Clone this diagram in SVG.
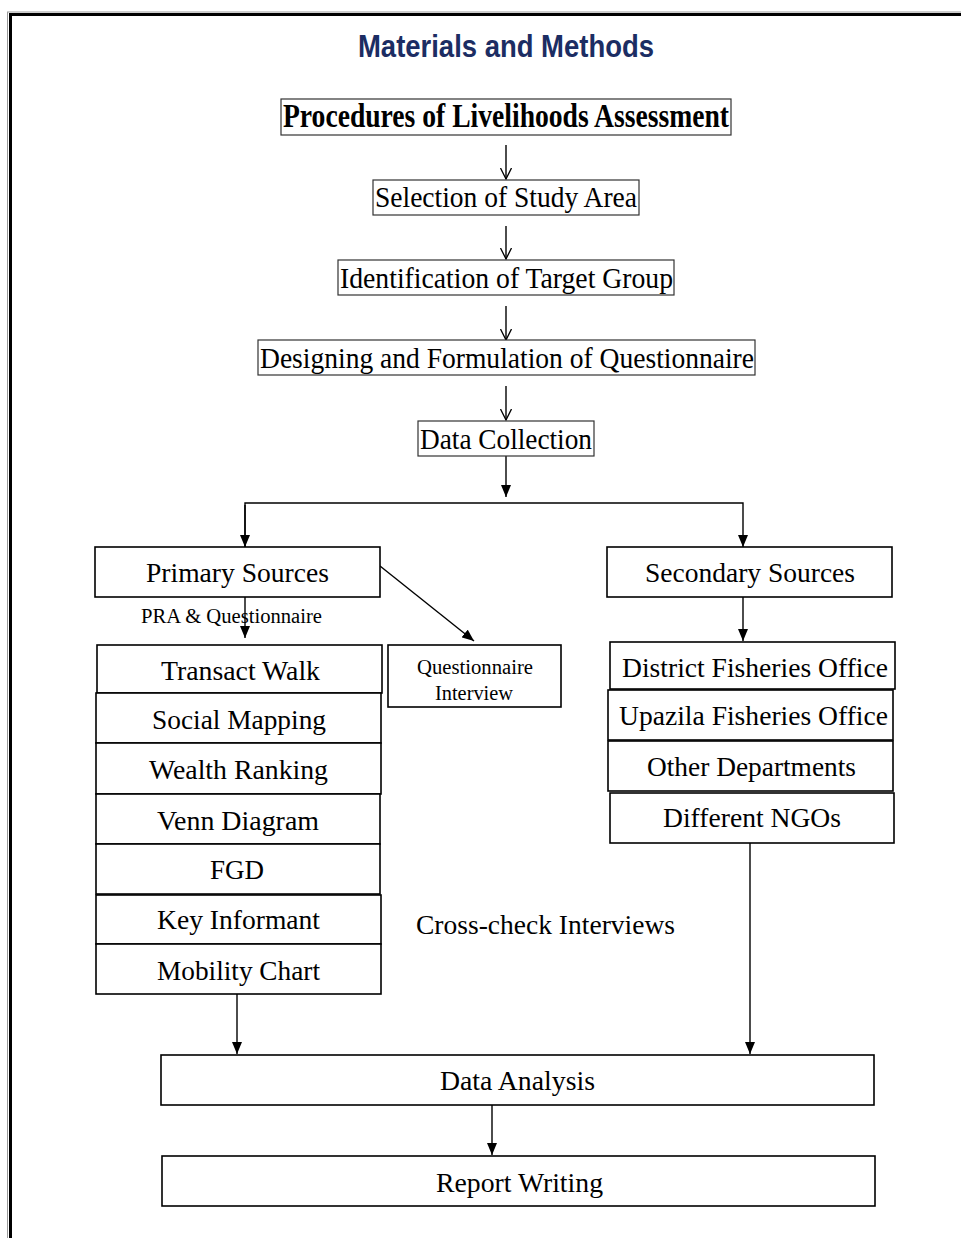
<svg xmlns="http://www.w3.org/2000/svg" width="961" height="1238" viewBox="0 0 961 1238">
<style>
.bx{fill:#fff;stroke:#000;stroke-width:1.6}
.bt{fill:#fff;stroke:#333;stroke-width:1.2}
.t{font-family:"Liberation Serif","Times New Roman",serif;fill:#000}
.c{stroke:#000;stroke-width:1.4;fill:none}
</style>
<defs>
<marker id="open" viewBox="0 0 12 12" refX="11" refY="6" markerWidth="12" markerHeight="12" orient="auto" markerUnits="userSpaceOnUse"><path d="M0,0.5 L11,6 L0,11.5" fill="none" stroke="#000" stroke-width="1.3"/></marker>
<marker id="fill" viewBox="0 0 12 10" refX="12" refY="5" markerWidth="12" markerHeight="10" orient="auto" markerUnits="userSpaceOnUse"><path d="M0,0 L12,5 L0,10 Z" fill="#000"/></marker>
</defs>
<rect width="961" height="1238" fill="#fff"/>
<g id="border">
<line x1="7.5" y1="12" x2="7.5" y2="1238" stroke="#999" stroke-width="1"/>
<line x1="10.5" y1="14.5" x2="10.5" y2="1238" stroke="#000" stroke-width="3"/>
<line x1="7" y1="12" x2="961" y2="12" stroke="#999" stroke-width="1"/>
<line x1="9" y1="14.5" x2="961" y2="14.5" stroke="#000" stroke-width="3"/>
</g>
<text id="title" x="358" y="57" textLength="296" lengthAdjust="spacingAndGlyphs" font-family="'Liberation Sans',Arial,sans-serif" font-weight="bold" font-size="32" fill="#1c2d63">Materials and Methods</text>
<g id="connectors">
<line class="c" x1="506" y1="145" x2="506" y2="179" marker-end="url(#open)"/>
<line class="c" x1="506" y1="226" x2="506" y2="259" marker-end="url(#open)"/>
<line class="c" x1="506" y1="306" x2="506" y2="340" marker-end="url(#open)"/>
<line class="c" x1="506" y1="386" x2="506" y2="420" marker-end="url(#open)"/>
<line class="c" x1="506" y1="456" x2="506" y2="497" marker-end="url(#fill)"/>
<polyline class="c" points="245,547 245,503 743,503 743,547" stroke-width="2" marker-end="url(#fill)"/>
<line class="c" x1="245" y1="505" x2="245" y2="547" marker-end="url(#fill)"/>
<line class="c" x1="245" y1="597" x2="245" y2="638" marker-end="url(#fill)"/>
<line class="c" x1="380" y1="566" x2="474" y2="641" marker-end="url(#fill)"/>
<line class="c" x1="743" y1="597" x2="743" y2="641" marker-end="url(#fill)"/>
<line class="c" x1="237" y1="994" x2="237" y2="1054" marker-end="url(#fill)"/>
<line class="c" x1="750" y1="843" x2="750" y2="1054" marker-end="url(#fill)"/>
<line class="c" x1="492" y1="1105" x2="492" y2="1155" marker-end="url(#fill)"/>
</g>
<g id="procedures"><rect class="bt" x="281" y="99" width="450" height="36"/><text class="t" x="283" y="127" font-size="33" font-weight="bold" textLength="446" lengthAdjust="spacingAndGlyphs">Procedures of Livelihoods Assessment</text></g>
<g id="selection"><rect class="bt" x="373" y="180" width="266" height="35"/><text class="t" x="375" y="207" font-size="30" textLength="262" lengthAdjust="spacingAndGlyphs">Selection of Study Area</text></g>
<g id="identification"><rect class="bt" x="338" y="260" width="336" height="35"/><text class="t" x="340" y="288" font-size="30" textLength="333" lengthAdjust="spacingAndGlyphs">Identification of Target Group</text></g>
<g id="designing"><rect class="bt" x="258" y="340" width="497" height="35"/><text class="t" x="260" y="368" font-size="30" textLength="494" lengthAdjust="spacingAndGlyphs">Designing and Formulation of Questionnaire</text></g>
<g id="datacollection"><rect class="bt" x="418" y="421" width="176" height="35"/><text class="t" x="420" y="449" font-size="30" textLength="172" lengthAdjust="spacingAndGlyphs">Data Collection</text></g>
<g id="primary"><rect class="bx" x="95" y="547" width="285" height="50"/><text class="t" x="146" y="582" font-size="28" textLength="183" lengthAdjust="spacingAndGlyphs">Primary Sources</text></g>
<text id="pra" class="t" x="141" y="623" font-size="20.5" textLength="181" lengthAdjust="spacingAndGlyphs">PRA &amp; Questionnaire</text>
<g id="secondary"><rect class="bx" x="607" y="547" width="285" height="50"/><text class="t" x="645" y="582" font-size="28" textLength="210" lengthAdjust="spacingAndGlyphs">Secondary Sources</text></g>
<g id="qinterview"><rect class="bx" x="388" y="645" width="173" height="62"/><text class="t" x="417" y="674" font-size="20.5" textLength="116" lengthAdjust="spacingAndGlyphs">Questionnaire</text><text class="t" x="435" y="700" font-size="20.5" textLength="78" lengthAdjust="spacingAndGlyphs">Interview</text></g>
<g id="transact"><rect class="bx" x="97" y="645" width="285" height="48"/><text class="t" x="161" y="680" font-size="28" textLength="159" lengthAdjust="spacingAndGlyphs">Transact Walk</text></g>
<g id="social"><rect class="bx" x="96" y="693" width="285" height="50"/><text class="t" x="152" y="729" font-size="28" textLength="174" lengthAdjust="spacingAndGlyphs">Social Mapping</text></g>
<g id="wealth"><rect class="bx" x="96" y="743" width="285" height="51"/><text class="t" x="149" y="779" font-size="28" textLength="179" lengthAdjust="spacingAndGlyphs">Wealth Ranking</text></g>
<g id="venn"><rect class="bx" x="96" y="794" width="284" height="50"/><text class="t" x="157" y="830" font-size="28" textLength="162" lengthAdjust="spacingAndGlyphs">Venn Diagram</text></g>
<g id="fgd"><rect class="bx" x="96" y="844" width="284" height="50"/><text class="t" x="210" y="879" font-size="28" textLength="54" lengthAdjust="spacingAndGlyphs">FGD</text></g>
<g id="key"><rect class="bx" x="96" y="895" width="285" height="49"/><text class="t" x="157" y="929" font-size="28" textLength="163" lengthAdjust="spacingAndGlyphs">Key Informant</text></g>
<g id="mobility"><rect class="bx" x="96" y="944" width="285" height="50"/><text class="t" x="157" y="980" font-size="28" textLength="163" lengthAdjust="spacingAndGlyphs">Mobility Chart</text></g>
<g id="district"><rect class="bx" x="610" y="642" width="285" height="47"/><text class="t" x="622" y="677" font-size="28" textLength="266" lengthAdjust="spacingAndGlyphs">District Fisheries Office</text></g>
<g id="upazila"><rect class="bx" x="608" y="690" width="285" height="50"/><text class="t" x="619" y="725" font-size="28" textLength="269" lengthAdjust="spacingAndGlyphs">Upazila Fisheries Office</text></g>
<g id="other"><rect class="bx" x="608" y="741" width="285" height="50"/><text class="t" x="647" y="776" font-size="28" textLength="209" lengthAdjust="spacingAndGlyphs">Other Departments</text></g>
<g id="ngos"><rect class="bx" x="610" y="793" width="284" height="50"/><text class="t" x="663" y="827" font-size="28" textLength="178" lengthAdjust="spacingAndGlyphs">Different NGOs</text></g>
<text id="crosscheck" class="t" x="416" y="934" font-size="28" textLength="259" lengthAdjust="spacingAndGlyphs">Cross-check Interviews</text>
<g id="analysis"><rect class="bx" x="161" y="1055" width="713" height="50"/><text class="t" x="440" y="1090" font-size="28" textLength="155" lengthAdjust="spacingAndGlyphs">Data Analysis</text></g>
<g id="report"><rect class="bx" x="162" y="1156" width="713" height="50"/><text class="t" x="436" y="1192" font-size="28" textLength="167" lengthAdjust="spacingAndGlyphs">Report Writing</text></g>
</svg>
